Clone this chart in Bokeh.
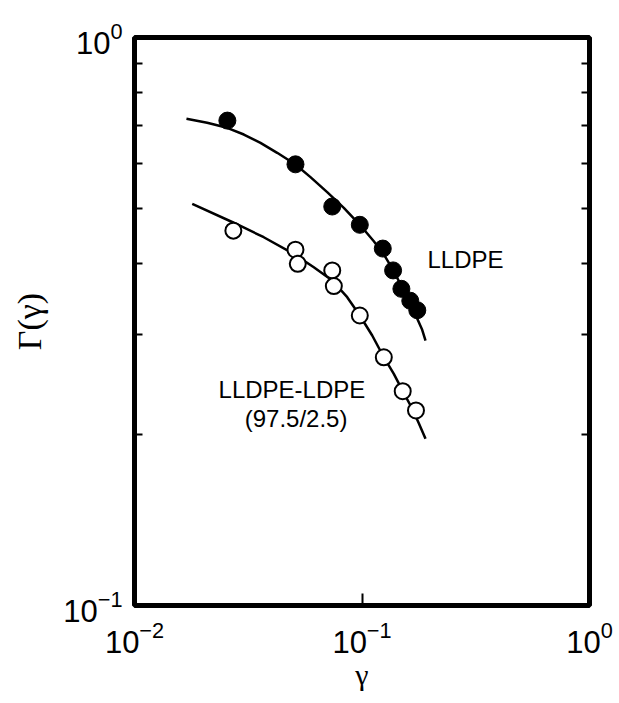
from bokeh.plotting import figure
from bokeh.models import (FixedTicker, LogAxis, Label, Range1d)
from bokeh.embed import file_html
from bokeh.resources import INLINE

# ---------------- data ----------------
lldpe_gamma = [0.0256, 0.0510, 0.0740, 0.0978, 0.1234, 0.137, 0.149, 0.163, 0.175]
lldpe_Gamma = [0.714, 0.598, 0.504, 0.468, 0.425, 0.389, 0.361, 0.344, 0.331]

blend_gamma = [0.0272, 0.0510, 0.0522, 0.0740, 0.0752, 0.0978, 0.1247, 0.151, 0.1727]
blend_Gamma = [0.457, 0.423, 0.3995, 0.389, 0.365, 0.324, 0.2735, 0.2384, 0.2205]

lldpe_fit_gamma = [0.01692, 0.02086, 0.02555, 0.03024, 0.03579, 0.04238, 0.05101, 0.05937,
                   0.07029, 0.0832, 0.09784, 0.1127, 0.1247, 0.138, 0.1502, 0.1634,
                   0.1748, 0.1839, 0.1902]
lldpe_fit_Gamma = [0.7191, 0.7076, 0.6934, 0.6748, 0.6525, 0.6266, 0.5975, 0.5677,
                   0.5342, 0.5013, 0.468, 0.4378, 0.415, 0.3879, 0.3625, 0.3388,
                   0.3201, 0.3057, 0.2927]

blend_fit_gamma = [0.01794, 0.02716, 0.0370, 0.0501, 0.0614, 0.0740, 0.0861, 0.0978,
                   0.1109, 0.1247, 0.138, 0.1511, 0.1663, 0.1777, 0.1902]
blend_fit_Gamma = [0.5095, 0.4724, 0.445, 0.416, 0.394, 0.3734, 0.349, 0.324,
                   0.2988, 0.2736, 0.2558, 0.2384, 0.222, 0.2094, 0.1966]

x_tick_values = [0.01, 0.1, 1.0]
y_tick_values = [0.1, 1.0]
y_minor_ticks = [0.2, 0.3, 0.4, 0.5, 0.6, 0.7, 0.8, 0.9]

# ---------------- figure ----------------
SANS = "Liberation Sans"
SERIF = "Liberation Serif"

p = figure(width=619, height=703, x_axis_type="log", y_axis_type="log",
           x_range=Range1d(x_tick_values[0], x_tick_values[-1]),
           y_range=Range1d(y_tick_values[0], y_tick_values[-1]),
           output_backend="svg", toolbar_location=None,
           min_border_left=134, min_border_right=30,
           min_border_top=37, min_border_bottom=98)
p.background_fill_color = "white"
p.border_fill_color = "white"
p.grid.visible = False
p.outline_line_color = "black"
p.outline_line_width = 5


def style_axis(ax, ticker, show_labels):
    ax.ticker = ticker
    ax.axis_line_color = None
    if show_labels:
        ax.major_label_text_font = SANS
        ax.major_label_text_font_size = "31px"
        ax.major_label_text_color = "black"
    else:
        ax.major_label_text_font_size = "1px"
        ax.major_label_text_color = None
        ax.major_label_standoff = 0
    ax.major_tick_out = 0
    ax.minor_tick_out = 0
    ax.major_tick_line_color = "black"
    ax.minor_tick_line_color = "black"
    ax.major_tick_line_width = 2
    ax.minor_tick_line_width = 2
    ax.axis_label_text_color = "black"


xb = p.xaxis[0]
style_axis(xb, FixedTicker(ticks=x_tick_values), True)
xb.major_tick_in = 12
xb.major_label_standoff = 15
xb.axis_label = "γ"
xb.axis_label_text_font = SERIF
xb.axis_label_text_font_style = "normal"
xb.axis_label_text_font_size = "30px"
xb.axis_label_standoff = 2

yl = p.yaxis[0]
style_axis(yl, FixedTicker(ticks=y_tick_values, minor_ticks=y_minor_ticks), True)
yl.major_tick_in = 0
yl.minor_tick_in = 8
yl.major_label_standoff = 12
yl.axis_label = "Γ(γ)"
yl.axis_label_text_font = SERIF
yl.axis_label_text_font_style = "normal"
yl.axis_label_text_font_size = "34px"
yl.axis_label_standoff = 12

yr = LogAxis()
style_axis(yr, FixedTicker(ticks=y_tick_values, minor_ticks=y_minor_ticks), False)
yr.major_tick_in = 0
yr.minor_tick_in = 8
p.add_layout(yr, "right")

# ---------------- curves and points ----------------
p.line(lldpe_fit_gamma, lldpe_fit_Gamma, line_color="black", line_width=2.5)
p.line(blend_fit_gamma, blend_fit_Gamma, line_color="black", line_width=2.5)
p.scatter(lldpe_gamma, lldpe_Gamma, size=17, fill_color="black", line_color="black",
          line_width=1)
p.scatter(blend_gamma, blend_Gamma, size=16, fill_color="white", line_color="black",
          line_width=2)

# ---------------- annotations ----------------
for txt, x, y, align in [("LLDPE", 0.194, 0.4066, "left"),
                         ("LLDPE-LDPE", 0.0492, 0.240, "center"),
                         ("(97.5/2.5)", 0.0513, 0.2130, "center")]:
    p.add_layout(Label(x=x, y=y, text=txt, text_align=align, text_baseline="alphabetic",
                       text_font=SANS, text_font_size="24px", text_color="black"))

open("out.html", "w").write(file_html(p, INLINE))
